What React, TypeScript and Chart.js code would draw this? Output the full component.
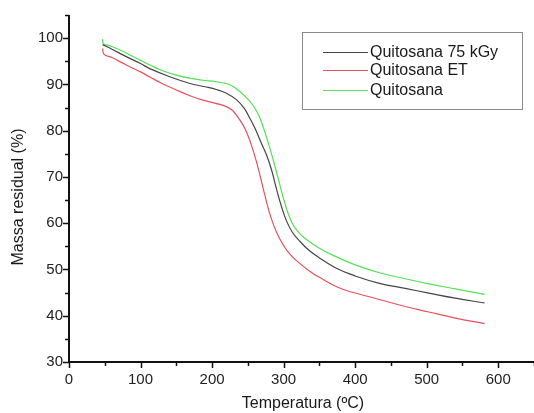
import React, { useEffect, useRef } from "react";
import { Chart, registerables } from "chart.js";

Chart.register(...registerables);

const FONT = "'Liberation Sans', Arial, sans-serif";

const seriesNames = ["Quitosana 75 kGy", "Quitosana ET", "Quitosana"];
const seriesColors = ["#454545", "#e8505c", "#55e055"];

const xTicks = [0, 100, 200, 300, 400, 500, 600];
const yTicks = [30, 40, 50, 60, 70, 80, 90, 100];

const tempBlack = [47, 60, 80, 100, 113, 140, 169, 190, 206, 220, 234, 245, 252, 260, 268, 276, 283, 290, 297, 304, 312, 322, 335, 350, 373, 400, 434, 470, 503, 540, 581];
const massBlack = [98.6, 97.6, 96.0, 94.5, 93.4, 91.7, 90.2, 89.5, 88.9, 88.1, 86.7, 84.8, 82.9, 80.5, 77.6, 74.8, 71.6, 67.4, 63.6, 60.5, 58.1, 56.2, 54.2, 52.5, 50.3, 48.6, 47.0, 45.9, 44.9, 43.8, 42.75];

const tempRed = [47, 49, 60, 80, 100, 113, 130, 150, 170, 187, 205, 220, 229, 243, 250, 256, 262, 268, 274, 280, 287, 294, 305, 318, 335, 350, 380, 420, 470, 503, 540, 581];
const massRed = [97.8, 96.5, 95.8, 94.2, 92.7, 91.6, 90.2, 88.8, 87.5, 86.6, 85.9, 85.2, 84.3, 81.3, 79.0, 76.4, 73.3, 69.7, 65.9, 62.4, 59.2, 56.8, 54.0, 51.9, 49.8, 48.3, 45.9, 44.1, 42.0, 40.8, 39.5, 38.3];

const tempGreen = [47, 48, 60, 80, 100, 113, 130, 150, 170, 187, 205, 220, 230, 240, 250, 257, 265, 271, 280, 287, 293, 299, 305, 312, 320, 331, 350, 370, 400, 434, 470, 503, 540, 581];
const massGreen = [99.8, 98.8, 98.2, 96.8, 95.2, 94.2, 93.0, 92.0, 91.3, 90.9, 90.6, 90.2, 89.5, 88.3, 86.8, 85.5, 83.4, 81.0, 76.6, 72.8, 69.3, 65.8, 62.7, 60.0, 58.2, 56.6, 54.6, 53.0, 51.0, 49.3, 48.0, 46.9, 45.8, 44.6];

const toPoints = (xs: number[], ys: number[]) => xs.map((x, i) => ({ x, y: ys[i] }));

const decorPlugin = {
  id: "decor",
  afterDraw(chart: any) {
    const ctx = chart.ctx as CanvasRenderingContext2D;
    const { left, right, top, bottom } = chart.chartArea;
    const xs = chart.scales.x;
    const ys = chart.scales.y;
    ctx.save();
    ctx.strokeStyle = "#111";
    ctx.lineWidth = 2;
    ctx.beginPath();
    ctx.moveTo(left, top);
    ctx.lineTo(left, bottom);
    ctx.lineTo(right, bottom);
    ctx.stroke();
    ctx.lineWidth = 1.5;
    ctx.beginPath();
    for (let v = 0; v <= 650; v += 50) {
      const px = Math.round(xs.getPixelForValue(v)) + 0.5;
      const len = v % 100 === 0 ? 6 : 4;
      ctx.moveTo(px, bottom);
      ctx.lineTo(px, bottom + len);
    }
    for (let v = 30; v <= 105; v += 5) {
      const py = Math.round(ys.getPixelForValue(v)) + 0.5;
      const len = v % 10 === 0 ? 6 : 4;
      ctx.moveTo(left, py);
      ctx.lineTo(left - len, py);
    }
    ctx.stroke();

    ctx.fillStyle = "#1a1a1a";
    ctx.font = `16px ${FONT}`;
    ctx.textAlign = "center";
    ctx.textBaseline = "middle";
    ctx.fillText("Temperatura (ºC)", 303, 404);
    ctx.save();
    ctx.translate(19, 197);
    ctx.rotate(-Math.PI / 2);
    ctx.fillText("Massa residual (%)", 0, 0);
    ctx.restore();

    ctx.strokeStyle = "#8a8a8a";
    ctx.lineWidth = 1;
    ctx.strokeRect(302.5, 32.5, 220, 77);
    const rows = [52, 70, 90];
    ctx.textAlign = "left";
    ctx.font = `16px ${FONT}`;
    chart.data.datasets.forEach((ds: any, i: number) => {
      ctx.strokeStyle = ds.borderColor;
      ctx.lineWidth = 1.2;
      ctx.beginPath();
      ctx.moveTo(323, rows[i] + 0.5);
      ctx.lineTo(368, rows[i] + 0.5);
      ctx.stroke();
      ctx.fillStyle = "#1a1a1a";
      ctx.fillText(ds.label, 370, rows[i] + 1);
    });
    ctx.restore();
  },
};

export default function App() {
  const ref = useRef<HTMLCanvasElement | null>(null);
  useEffect(() => {
    document.body.style.margin = "0";
    const canvas = ref.current;
    if (!canvas) return;
    const datasets = [
      { label: seriesNames[0], data: toPoints(tempBlack, massBlack), borderColor: seriesColors[0] },
      { label: seriesNames[1], data: toPoints(tempRed, massRed), borderColor: seriesColors[1] },
      { label: seriesNames[2], data: toPoints(tempGreen, massGreen), borderColor: seriesColors[2] },
    ].map((d) => ({
      ...d,
      borderWidth: 1.2,
      pointRadius: 0,
      fill: false,
      tension: 0.4,
    }));
    const chart = new Chart(canvas, {
      type: "line",
      data: { datasets },
      options: {
        animation: false,
        responsive: false,
        layout: { padding: { top: 13, right: 0, left: 0, bottom: 0 } },
        plugins: { legend: { display: false }, tooltip: { enabled: false } },
        scales: {
          x: {
            type: "linear",
            min: 0,
            max: 650,
            grid: { display: false, drawTicks: false },
            border: { display: false },
            afterBuildTicks: (s: any) => {
              s.ticks = xTicks.map((v) => ({ value: v }));
            },
            afterFit: (s: any) => {
              s.height = 51;
            },
            ticks: {
              padding: 9,
              color: "#222",
              font: { family: FONT, size: 15 },
              maxRotation: 0,
              autoSkip: false,
            },
          },
          y: {
            type: "linear",
            min: 30,
            max: 105,
            grid: { display: false, drawTicks: false },
            border: { display: false },
            afterBuildTicks: (s: any) => {
              s.ticks = yTicks.map((v) => ({ value: v }));
            },
            afterFit: (s: any) => {
              s.width = 69;
            },
            ticks: {
              padding: 6,
              color: "#222",
              font: { family: FONT, size: 15 },
              autoSkip: false,
            },
          },
        },
      },
      plugins: [decorPlugin],
    });
    return () => chart.destroy();
  }, []);
  return <canvas ref={ref} width={534} height={413} style={{ display: "block", width: 534, height: 413 }} />;
}
